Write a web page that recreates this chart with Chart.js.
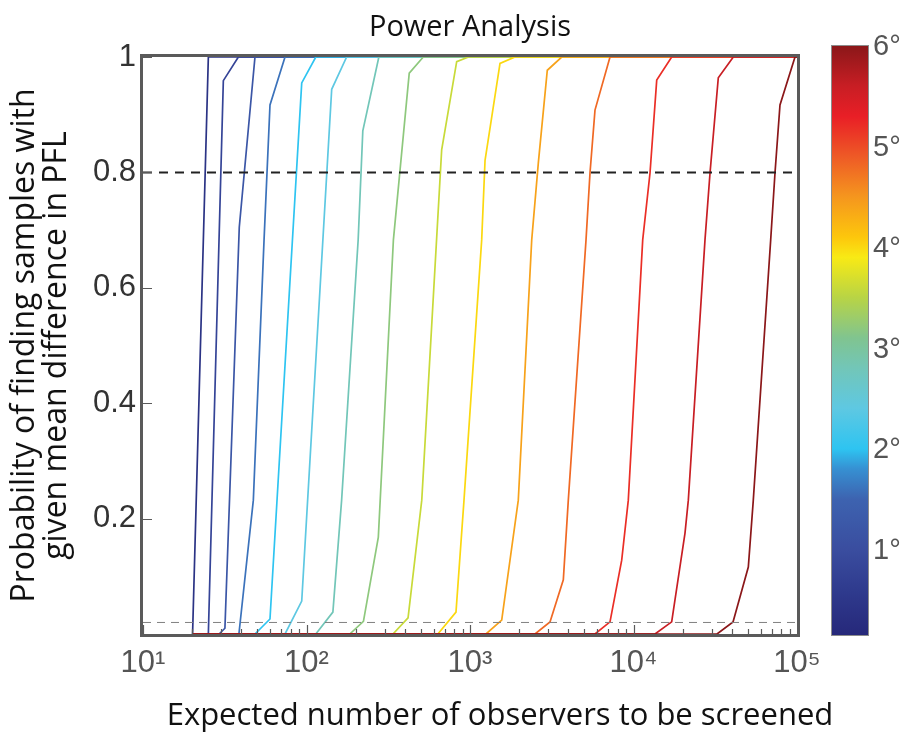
<!DOCTYPE html>
<html>
<head>
<meta charset="utf-8">
<script src="https://cdn.jsdelivr.net/npm/chart.js@4.4.1/dist/chart.umd.min.js"></script>
<style>
  html, body { margin: 0; padding: 0; background: #fff; }
  #wrap { position: relative; width: 912px; height: 733px; }
  #cbar { position: absolute; left: 831px; top: 45px; width: 36px; height: 589px; border: 1px solid #8c8c8c; }
  .cb-label { position: absolute; left: 873px; font: 29px "Liberation Sans", Arial, sans-serif; color: #555; transform: translateY(-50%); line-height: 1; }
</style>
</head>
<body>
<div id="wrap">
  <canvas id="chart" width="912" height="733"></canvas>
  <div id="cbar"></div>
</div>
<script>
// Angle (deg) of each curve, coloured by the colour bar
const angles = [0.4, 0.8, 1.2, 1.6, 2.0, 2.4, 2.8, 3.2, 3.6, 4.0, 4.4, 4.8, 5.2, 5.6, 6.0];

// Expected number of observers screened, one list per curve
const observers = [
    [20.1, 25.1, 100000],
    [20.1, 25.1, 31.0, 38.3, 100000],
    [20.1, 29.2, 31.7, 38.8, 48.4, 100000],
    [20.1, 38.6, 47.3, 55.0, 59.8, 73.9, 100000],
    [20.1, 48.4, 59.8, 93.5, 114, 100000],
    [20.1, 73.9, 93.5, 142.6, 176, 100000],
    [20.1, 114, 145, 164, 207, 221, 277, 100000],
    [20.1, 184, 223, 275, 340, 425, 518, 100000],
    [20.1, 338, 418, 507, 671, 829, 979, 100000],
    [20.1, 636, 821, 919, 1179, 1236, 1526, 1884, 100000],
    [20.1, 1253, 1563, 1974, 2385, 2617, 2970, 3638, 100000],
    [20.1, 2498, 3085, 3722, 3993, 5124, 5419, 5814, 7184, 100000],
    [20.1, 5814, 7184, 8470, 9294, 11385, 12618, 13869, 17122, 100000],
    [20.1, 13541, 17122, 20654, 21643, 27370, 29377, 33010, 40778, 100000],
    [20.1, 32420, 40620, 50380, 54040, 69040, 73350, 78700, 97230, 100000]
];

// Probability of finding samples with given mean difference, per curve
const probability = [
    [0, 1, 1],
    [0, 0, 0.959, 1, 1],
    [0, 0, 0.010, 0.705, 1, 1],
    [0, 0, 0.232, 0.683, 0.917, 1, 1],
    [0, 0, 0.026, 0.955, 1, 1],
    [0, 0, 0.057, 0.944, 1, 1],
    [0, 0, 0.038, 0.232, 0.683, 0.872, 1, 1],
    [0, 0, 0.022, 0.168, 0.683, 0.972, 1, 1],
    [0, 0, 0.028, 0.232, 0.839, 0.992, 1, 1],
    [0, 0, 0.038, 0.232, 0.683, 0.821, 0.989, 1, 1],
    [0, 0, 0.024, 0.232, 0.683, 0.816, 0.977, 1, 1],
    [0, 0, 0.021, 0.094, 0.232, 0.683, 0.799, 0.908, 1, 1],
    [0, 0, 0.021, 0.128, 0.232, 0.683, 0.799, 0.960, 1, 1],
    [0, 0, 0.021, 0.175, 0.232, 0.683, 0.799, 0.964, 1, 1],
    [0, 0, 0.021, 0.116, 0.232, 0.683, 0.799, 0.917, 1, 1]
];

// reference levels (dashed)
const powerLevel = 0.8;
const floorLevel = 0.02;

const xTicks = [10, 100, 1000, 10000, 100000];
const xTickLabels = ['10\u00b9', '10\u00b2', '10\u00b3', '10\u2074', '10\u2075'];
const yTicks = [0.2, 0.4, 0.6, 0.8, 1];
const yTickLabels = ['0.2', '0.4', '0.6', '0.8', '1'];
const cbarTicks = [1, 2, 3, 4, 5, 6];
const cbarMin = 0.15, cbarMax = 6;

const xTitle = 'Expected number of observers to be screened';

// jet-like colour map used by the figure (degrees -> colour)
const cmap = [
    [0.15, '#26287a'], [0.6, '#2f3b8e'], [1.0, '#3a4d9f'], [1.5, '#3d63b0'],
    [1.8, '#3690d2'], [2.0, '#2ec4f1'], [2.4, '#5ec8e2'], [2.8, '#72c6b8'],
    [3.1, '#80c490'], [3.5, '#b8d445'], [3.9, '#f8ea15'], [4.1, '#fdc70c'],
    [4.5, '#f5961e'], [4.9, '#ee5a26'], [5.3, '#e91f26'], [5.6, '#c81e24'],
    [6.0, '#8b1719']
];

function hexToRgb(h) { return [1, 3, 5].map(i => parseInt(h.substr(i, 2), 16)); }
function colourFor(v) {
    for (let i = 1; i < cmap.length; i++) {
        if (v <= cmap[i][0]) {
            const [v0, c0] = cmap[i - 1], [v1, c1] = cmap[i];
            const t = Math.max(0, (v - v0) / (v1 - v0));
            const a = hexToRgb(c0), b = hexToRgb(c1);
            return 'rgb(' + a.map((x, j) => Math.round(x + (b[j] - x) * t)).join(',') + ')';
        }
    }
    return cmap[cmap.length - 1][1];
}

// Colour bar
const cbar = document.getElementById('cbar');
const stops = cmap.map(([v, c]) => `${c} ${((v - cbarMin) / (cbarMax - cbarMin) * 100).toFixed(1)}%`);
cbar.style.background = `linear-gradient(to top, ${stops.join(', ')})`;
cbarTicks.forEach(v => {
    const el = document.createElement('div');
    el.className = 'cb-label';
    el.textContent = v + '\u00b0';
    el.style.top = (45 + (cbarMax - v) / (cbarMax - cbarMin) * 590) + 'px';
    document.getElementById('wrap').appendChild(el);
});

const curveSets = angles.map((a, k) => ({
    label: a + '\u00b0',
    data: observers[k].map((x, i) => ({ x: x, y: probability[k][i] })),
    borderColor: colourFor(a),
    borderWidth: 1.7,
    pointRadius: 0,
    tension: 0,
    order: angles.length - k
}));

const refSets = [
    { label: 'power', data: [{ x: 10, y: powerLevel }, { x: 100000, y: powerLevel }],
      borderColor: '#222', borderWidth: 2, borderDash: [9, 7], pointRadius: 0, order: 0 },
    { label: 'floor', data: [{ x: 10, y: floorLevel }, { x: 100000, y: floorLevel }],
      borderColor: '#808080', borderWidth: 1, borderDash: [8, 6], pointRadius: 0, order: 0 }
];

// box round the plot, inward tick marks, and the x title (centred on the whole figure)
const frame = {
    id: 'frame',
    afterDatasetsDraw(chart) {
        const { ctx, chartArea: a, scales: { x, y } } = chart;
        ctx.save();
        ctx.strokeStyle = '#5a5a5a';
        ctx.lineWidth = 1.2;
        ctx.beginPath();
        xTicks.slice(0, -1).forEach(d => {
            for (let m = 1; m < 10; m++) {
                const px = Math.round(x.getPixelForValue(d * m)) + 0.5;
                const len = m === 1 ? 9 : 5;
                ctx.moveTo(px, a.bottom); ctx.lineTo(px, a.bottom - len);
            }
        });
        yTicks.forEach(v => {
            const py = Math.round(y.getPixelForValue(v)) + 0.5;
            ctx.moveTo(a.left, py); ctx.lineTo(a.left + 9, py);
        });
        ctx.stroke();
        ctx.lineWidth = 3;
        ctx.strokeRect(a.left - 1.5, a.top - 1.5, a.right - a.left + 3, a.bottom - a.top + 3);
        ctx.restore();
    },
    afterDraw(chart) {
        const ctx = chart.ctx;
        ctx.save();
        ctx.fillStyle = '#111';
        ctx.font = '31px "Open Sans"';
        ctx.textAlign = 'center';
        ctx.textBaseline = 'alphabetic';
        ctx.fillText(xTitle, 500, 725);
        ctx.restore();
    }
};

new Chart(document.getElementById('chart'), {
    type: 'line',
    data: { datasets: curveSets.concat(refSets) },
    plugins: [frame],
    options: {
        responsive: false,
        animation: false,
        devicePixelRatio: 1,
        layout: { padding: { left: 0, right: 115, top: 0, bottom: 0 } },
        plugins: {
            legend: { display: false },
            tooltip: { enabled: false },
            title: {
                display: true,
                fullSize: false,
                text: 'Power Analysis',
                color: '#111',
                font: { family: '"Open Sans"', size: 29, weight: 'normal' },
                padding: { top: 10, bottom: 12.2 }
            }
        },
        scales: {
            x: {
                type: 'logarithmic', min: 10, max: 100000,
                afterBuildTicks: s => { s.ticks = xTicks.map(v => ({ value: v })); },
                afterFit: s => { s.height = 99; s.paddingLeft = 0; s.paddingRight = 0; },
                grid: { display: false, drawTicks: false },
                border: { display: false },
                ticks: {
                    padding: 11, color: '#555', maxRotation: 0, autoSkip: false,
                    font: { family: '"Liberation Sans", Arial, sans-serif', size: 31 },
                    callback: (v, i) => xTickLabels[i]
                },
                title: { display: false }
            },
            y: {
                min: 0, max: 1,
                afterBuildTicks: s => { s.ticks = yTicks.map(v => ({ value: v })); },
                afterFit: s => { s.width = 143; },
                grid: { display: false, drawTicks: false },
                border: { display: false },
                ticks: {
                    padding: 7, color: '#333',
                    font: { family: '"Liberation Sans", Arial, sans-serif', size: 31 },
                    callback: (v, i) => yTickLabels[i]
                },
                title: {
                    display: true,
                    text: ['Probability of finding samples with', 'given mean difference in PFL'],
                    color: '#111',
                    font: { family: '"Open Sans"', size: 32, lineHeight: 1.0 },
                    padding: { top: 9, bottom: 0 }
                }
            }
        }
    }
});
</script>
</body>
</html>
